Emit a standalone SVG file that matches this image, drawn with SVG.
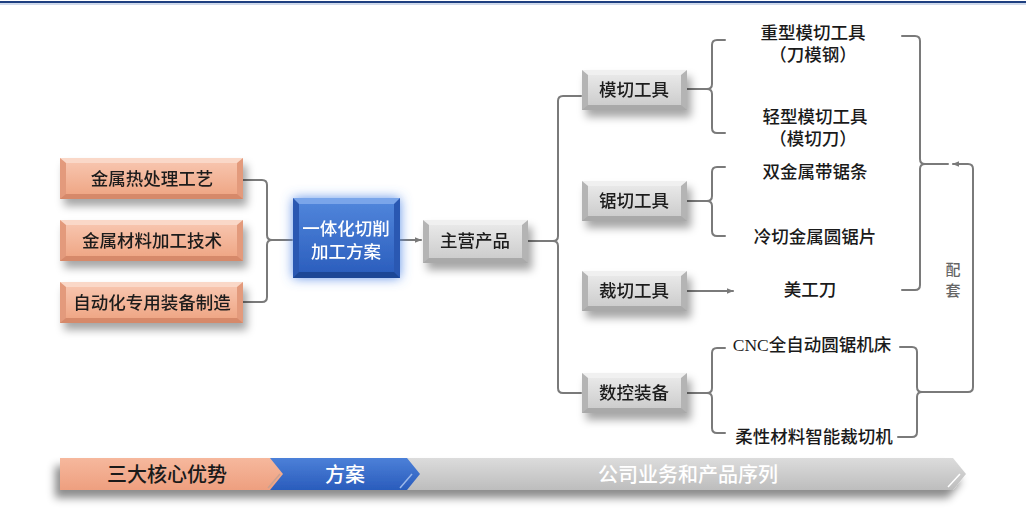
<svg xmlns="http://www.w3.org/2000/svg" xmlns:xlink="http://www.w3.org/1999/xlink" width="1026" height="519" viewBox="0 0 1026 519">
<style>
.t{font-family:"Liberation Serif","Noto Sans CJK SC",serif;font-size:17.5px;font-weight:500;fill:#1a1a1a;text-anchor:middle;dominant-baseline:central}
.w{fill:#ffffff}
.big{font-size:20px}
.c{fill:none;stroke:#7a7a7a;stroke-width:2;stroke-linejoin:round;stroke-linecap:round}
</style>
<defs>
<linearGradient id="gGray" x1="0" y1="0" x2="0" y2="1"><stop offset="0" stop-color="#e8e8e8"/><stop offset="1" stop-color="#cdcdcd"/></linearGradient>
<linearGradient id="gOr" x1="0" y1="0" x2="0" y2="1"><stop offset="0" stop-color="#f7c4ad"/><stop offset="1" stop-color="#efa786"/></linearGradient>
<linearGradient id="gBlue" x1="0" y1="0" x2="0" y2="1"><stop offset="0" stop-color="#4f84da"/><stop offset="1" stop-color="#2c5fbe"/></linearGradient>
<linearGradient id="gBarGray" x1="0" y1="0" x2="0" y2="1"><stop offset="0" stop-color="#dcdcdc"/><stop offset="1" stop-color="#bdbdbd"/></linearGradient>
<linearGradient id="gBarOr" x1="0" y1="0" x2="0" y2="1"><stop offset="0" stop-color="#f6b89d"/><stop offset="1" stop-color="#ee9f7f"/></linearGradient>
<linearGradient id="gBarBlue" x1="0" y1="0" x2="0" y2="1"><stop offset="0" stop-color="#4c80d8"/><stop offset="1" stop-color="#2a5cbc"/></linearGradient>
<filter id="sh" x="-20%" y="-30%" width="150%" height="190%"><feDropShadow dx="4" dy="7" stdDeviation="4" flood-color="#000" flood-opacity="0.35"/></filter>
<filter id="glow" x="-30%" y="-30%" width="160%" height="160%"><feDropShadow dx="0" dy="0" stdDeviation="6" flood-color="#4f86e6" flood-opacity="0.9"/></filter>
<filter id="barsh" x="-10%" y="-50%" width="120%" height="250%"><feDropShadow dx="-5" dy="8" stdDeviation="4" flood-color="#000" flood-opacity="0.45"/></filter>
<marker id="ar" viewBox="0 0 10 10" refX="9" refY="5" markerWidth="7" markerHeight="7" orient="auto-start-reverse" markerUnits="userSpaceOnUse"><path d="M0,1 L10,5 L0,9 z" fill="#7a7a7a"/></marker>
<g id="grayBox">
<rect x="0" y="0" width="105" height="40" fill="#b4b4b4"/>
<polygon points="0,0 105,0 99,5 6,5" fill="#f0f0f0"/>
<polygon points="0,40 105,40 99,35 6,35" fill="#a9a9a9"/>
<rect x="6" y="5" width="93" height="30" fill="url(#gGray)"/>
</g>
<g id="orBox">
<rect x="0" y="0" width="183" height="41" fill="#e39a7b"/>
<polygon points="0,0 183,0 177,5 6,5" fill="#fad8c8"/>
<polygon points="0,41 183,41 177,36 6,36" fill="#d6896b"/>
<rect x="6" y="5" width="171" height="31" fill="url(#gOr)"/>
</g>
</defs>
<rect width="1026" height="519" fill="#ffffff"/>
<line x1="0" y1="2" x2="1026" y2="2" stroke="#1e3f80" stroke-width="2"/>
<line x1="0" y1="4" x2="1026" y2="4" stroke="#9fb4d8" stroke-width="1"/>

<g id="connectors">
<path class="c" d="M243,180 H262 Q267,180 267,185 V235 Q267,240 272,240 H292 M272,240 Q267,240 267,245 V297 Q267,302 262,302 H243"/>
<line class="c" x1="400" y1="240" x2="421" y2="240" marker-end="url(#ar)"/>
<path class="c" d="M528,241 H553 Q558,241 558,236 V101 Q558,96 563,96 H581 M553,241 Q558,241 558,246 V388 Q558,393 563,393 H581"/>
<path class="c" d="M687,89 H707 Q712,89 712,84 V45 Q712,40 717,40 H725 M707,89 Q712,89 712,94 V128 Q712,133 717,133 H725"/>
<path class="c" d="M687,201 H707 Q712,201 712,196 V172 Q712,167 717,167 H725 M707,201 Q712,201 712,206 V231 Q712,236 717,236 H725"/>
<line class="c" x1="687" y1="291" x2="733" y2="291" marker-end="url(#ar)"/>
<path class="c" d="M687,393 H707 Q712,393 712,388 V353 Q712,348 717,348 H725 M707,393 Q712,393 712,398 V428 Q712,433 717,433 H725"/>
<path class="c" d="M902,36 H915 Q920,36 920,41 V159 Q920,164 925,164 H948 M925,164 Q920,164 920,169 V285 Q920,290 915,290 H902"/>
<path class="c" d="M900,347 H912 Q917,347 917,352 V387 Q917,392 922,392 H968 Q973,392 973,387 V169 Q973,164 968,164 H953" marker-end="url(#ar)"/>
<path class="c" d="M922,392 Q917,392 917,397 V432 Q917,437 912,437 H898"/>
</g>

<g id="n1" filter="url(#sh)"><use xlink:href="#orBox" x="60" y="158"/><text class="t" x="152" y="179">金属热处理工艺</text></g>
<g id="n2" filter="url(#sh)"><use xlink:href="#orBox" x="60" y="220"/><text class="t" x="152" y="241">金属材料加工技术</text></g>
<g id="n3" filter="url(#sh)"><use xlink:href="#orBox" x="60" y="282"/><text class="t" x="152" y="303">自动化专用装备制造</text></g>

<g id="n4" filter="url(#glow)">
<rect x="293" y="198" width="107" height="80" fill="#2a58b2"/>
<polygon points="293,198 400,198 394,204 299,204" fill="#7aa5ea"/>
<polygon points="293,278 400,278 394,272 299,272" fill="#1f4796"/>
<rect x="299" y="204" width="95" height="68" fill="url(#gBlue)"/>
<text class="t w" x="346" y="229">一体化切削</text>
<text class="t w" x="346" y="252">加工方案</text>
</g>

<g id="n5" filter="url(#sh)">
<rect x="423" y="220" width="105" height="43" fill="#b4b4b4"/>
<polygon points="423,220 528,220 522,225 429,225" fill="#f0f0f0"/>
<polygon points="423,263 528,263 522,258 429,258" fill="#a9a9a9"/>
<rect x="429" y="225" width="93" height="33" fill="url(#gGray)"/>
<text class="t" x="475" y="241">主营产品</text>
</g>

<g id="n6" filter="url(#sh)"><use xlink:href="#grayBox" x="582" y="70"/><text class="t" x="634" y="90">模切工具</text></g>
<g id="n7" filter="url(#sh)"><use xlink:href="#grayBox" x="582" y="181"/><text class="t" x="634" y="201">锯切工具</text></g>
<g id="n8" filter="url(#sh)"><use xlink:href="#grayBox" x="582" y="271"/><text class="t" x="634" y="291">裁切工具</text></g>
<g id="n9" filter="url(#sh)"><use xlink:href="#grayBox" x="582" y="373"/><text class="t" x="634" y="393">数控装备</text></g>

<g id="n10"><text class="t" x="813" y="33">重型模切工具</text><text class="t" x="813" y="55">（刀模钢）</text></g>
<g id="n11"><text class="t" x="815" y="117">轻型模切工具</text><text class="t" x="813" y="139">（模切刀）</text></g>
<g id="n12"><text class="t" x="815" y="172">双金属带锯条</text></g>
<g id="n13"><text class="t" x="815" y="237">冷切金属圆锯片</text></g>
<g id="n14"><text class="t" x="810" y="290">美工刀</text></g>
<g id="n15"><text class="t" x="812" y="345">CNC全自动圆锯机床</text></g>
<g id="n16"><text class="t" x="814" y="437">柔性材料智能裁切机</text></g>
<g id="n17"><text class="t" x="953" y="270" style="font-size:15px;fill:#666">配</text><text class="t" x="953" y="291" style="font-size:15px;fill:#666">套</text></g>

<g id="bar">
<g filter="url(#barsh)">
<polygon points="400,458 953,458 966,474 953,490 400,490" fill="url(#gBarGray)"/>
<polygon points="270,458 407,458 420,474 407,490 270,490" fill="url(#gBarBlue)"/>
<polygon points="60,458 270,458 283,474 270,490 60,490" fill="url(#gBarOr)"/>
</g>
<polyline points="948,487 960,474" fill="none" stroke="#ffffff" stroke-width="1.5"/>
<polyline points="400,488 412,474" fill="none" stroke="#9cb8ea" stroke-width="1.5"/>
<polyline points="268,488 280,474" fill="none" stroke="#c9a090" stroke-width="1.5"/>
<text class="t big" x="167" y="475">三大核心优势</text>
<text class="t big w" x="345" y="475">方案</text>
<text class="t big w" x="688" y="475">公司业务和产品序列</text>
</g>
</svg>
